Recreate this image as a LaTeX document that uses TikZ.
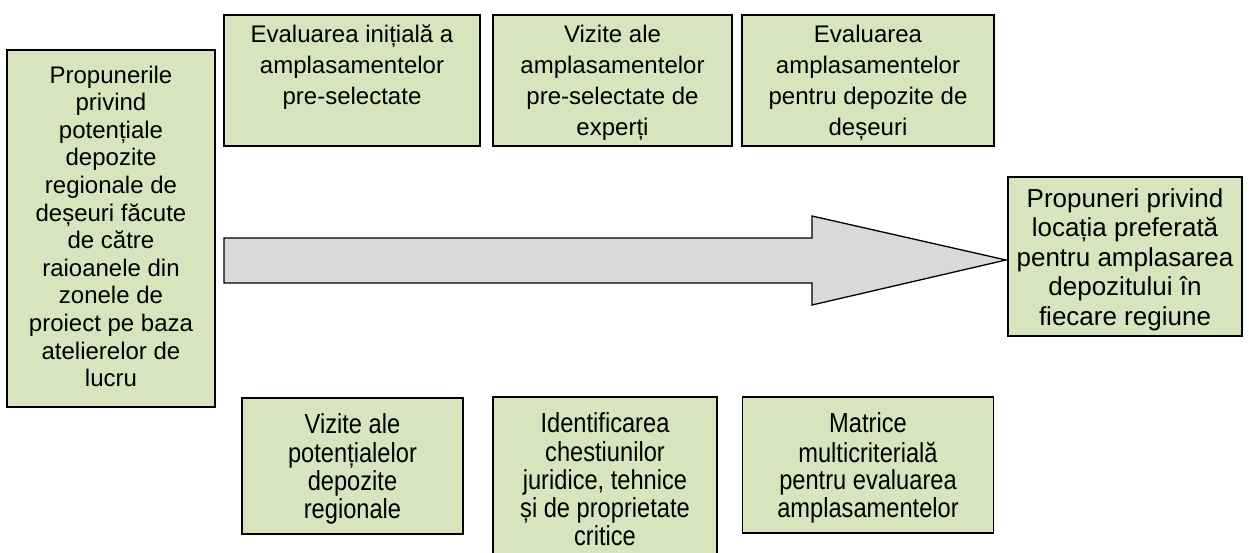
\documentclass[tikz,border=0pt]{standalone}
\usepackage{fontspec}
\setmainfont{Liberation Sans}
\newfontfamily\narrowsans[FakeStretch=0.86]{Liberation Sans}
\definecolor{boxgreen}{HTML}{D7E4BD}
\definecolor{arrowgray}{HTML}{D9D9D9}
\newcommand{\boxtext}[4]{\parbox[c][#2][t]{#1}{\vspace*{#3}\centering\strut #4\par}}
\begin{document}
\begin{tikzpicture}[x=1pt,y=-1pt,
  stagebox/.style={draw=black, fill=boxgreen, line width=1.6pt, inner sep=0pt, outer sep=0pt},
  leftfont/.style={font=\fontsize{24}{27.6}\selectfont},
  topfont/.style={font=\fontsize{24}{31}\selectfont},
  rightfont/.style={font=\fontsize{26}{29.6}\selectfont},
  bottomfont/.style={font=\narrowsans\fontsize{27.5}{27.8}\selectfont},
  bigarrow/.style={draw=black, fill=arrowgray, line width=1.3pt, line join=miter}]
\useasboundingbox (0,0) rectangle (1249,552);
% left box
\node[stagebox, leftfont] (L) at (111,228.5) {\boxtext{208pt}{357pt}{13.7pt}{Propunerile\\privind\\potențiale\\depozite\\regionale de\\deșeuri făcute\\de către\\raioanele din\\zonele de\\proiect pe baza\\atelierelor de\\lucru}};
% top boxes
\node[stagebox, topfont] (T1) at (352,80.5) {\boxtext{256pt}{131pt}{5.3pt}{Evaluarea inițială a\\amplasamentelor\\pre-selectate}};
\node[stagebox, topfont] (T2) at (612.5,80.5) {\boxtext{239pt}{131pt}{5.3pt}{Vizite ale\\amplasamentelor\\pre-selectate de\\experți}};
\node[stagebox, topfont] (T3) at (868,80.5) {\boxtext{252pt}{131pt}{5.3pt}{Evaluarea\\amplasamentelor\\pentru depozite de\\deșeuri}};
% right box
\node[stagebox, rightfont] (R) at (1125,256.5) {\boxtext{234pt}{159pt}{9.3pt}{Propuneri privind\\locația preferată\\pentru amplasarea\\depozitului în\\fiecare regiune}};
% bottom boxes
\node[stagebox, bottomfont] (B1) at (352.5,466) {\boxtext{221pt}{136pt}{15.5pt}{Vizite ale\\potențialelor\\depozite\\regionale}};
\node[stagebox, bottomfont] (B2) at (605,477) {\boxtext{224pt}{160pt}{15.5pt}{Identificarea\\chestiunilor\\juridice, tehnice\\și de proprietate\\critice}};
\node[stagebox, bottomfont] (B3) at (868,465) {\boxtext{251pt}{136pt}{15.5pt}{Matrice\\multicriterială\\pentru evaluarea\\amplasamentelor}};
% big arrow
\draw[bigarrow] (224,238) -- (812,238) -- (812,216) -- (1006,260) -- (812,305) -- (812,283) -- (224,283) -- cycle;
\end{tikzpicture}
\end{document}
